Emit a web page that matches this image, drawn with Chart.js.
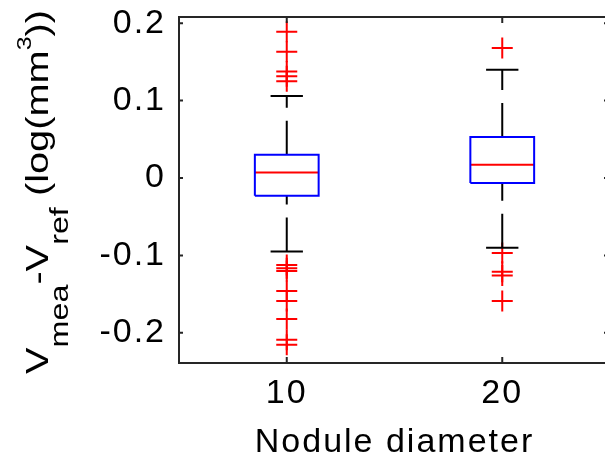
<!DOCTYPE html>
<html>
<head>
<meta charset="utf-8">
<script src="https://cdn.jsdelivr.net/npm/chart.js@4.4.1/dist/chart.umd.min.js"></script>
<style>
  html, body { margin: 0; padding: 0; background: #fff; overflow: hidden; }
  #wrap { width: 612px; height: 460px; }
  #boxChart { width: 612px; height: 460px; }
</style>
</head>
<body>
<div id="wrap"><canvas id="boxChart" width="612" height="460"></canvas></div>
<script>
// box plot stats
const diameters = [10, 20];
const positions = [1, 2];
const q1 = [-0.023, -0.0065];
const medians = [0.007, 0.017];
const q3 = [0.030, 0.053];
const whiskerLow = [-0.095, -0.090];
const whiskerHigh = [0.106, 0.140];
const outliers10 = [0.189, 0.163, 0.1375, 0.1315, 0.125, -0.1125, -0.1167, -0.120, -0.146, -0.159, -0.182, -0.209, -0.2155];
const outliers20 = [0.168, -0.097, -0.121, -0.126, -0.159];
const yTicks = [-0.2, -0.1, 0, 0.1, 0.2];

const boxHalf = 0.148;
const capHalf = 0.075;
const FONT = "'Liberation Sans', Arial, sans-serif";

// build line pieces for every box
const datasets = [];
positions.forEach((p, i) => {
    datasets.push({
        data: [
            { x: p - boxHalf, y: q1[i] }, { x: p + boxHalf, y: q1[i] },
            { x: p + boxHalf, y: q3[i] }, { x: p - boxHalf, y: q3[i] },
            { x: p - boxHalf, y: q1[i] }
        ],
        borderColor: "#0000ff", borderWidth: 2
    });
    datasets.push({
        data: [{ x: p - boxHalf, y: medians[i] }, { x: p + boxHalf, y: medians[i] }],
        borderColor: "#ff0000", borderWidth: 2
    });
    datasets.push({
        data: [{ x: p, y: q3[i] }, { x: p, y: whiskerHigh[i] }],
        borderColor: "#000", borderWidth: 2, borderDash: [34, 13]
    });
    datasets.push({
        data: [{ x: p, y: whiskerLow[i] }, { x: p, y: q1[i] }],
        borderColor: "#000", borderWidth: 2, borderDash: [34, 13]
    });
    datasets.push({
        data: [{ x: p - capHalf, y: whiskerHigh[i] }, { x: p + capHalf, y: whiskerHigh[i] }],
        borderColor: "#000", borderWidth: 2
    });
    datasets.push({
        data: [{ x: p - capHalf, y: whiskerLow[i] }, { x: p + capHalf, y: whiskerLow[i] }],
        borderColor: "#000", borderWidth: 2
    });
});
datasets.forEach(d => { d.showLine = true; d.pointRadius = 0; d.fill = false; });

[outliers10, outliers20].forEach((list, i) => {
    datasets.push({
        data: list.map(v => ({ x: positions[i], y: v })),
        showLine: false,
        pointStyle: "cross",
        pointRadius: 10.5,
        pointBorderColor: "#ff0000",
        pointBorderWidth: 2,
        borderColor: "#ff0000"
    });
});

// frame, inward ticks and the y title with sub/superscripts
const framePlugin = {
    id: "frame",
    beforeDraw(chart) {
        chart.ctx.letterSpacing = "2px";
    },
    afterDraw(chart) {
        const ctx = chart.ctx;
        const a = chart.chartArea;
        const xs = chart.scales.x, ys = chart.scales.y;
        ctx.save();
        ctx.strokeStyle = "#262626";
        ctx.lineWidth = 2;
        ctx.strokeRect(a.left, a.top, a.right - a.left, a.bottom - a.top);
        ctx.beginPath();
        yTicks.forEach(v => {
            const y = ys.getPixelForValue(v);
            ctx.moveTo(a.left, y); ctx.lineTo(a.left + 4, y);
            ctx.moveTo(a.right, y); ctx.lineTo(a.right - 6, y);
        });
        positions.forEach(p => {
            const x = xs.getPixelForValue(p);
            ctx.moveTo(x, a.bottom); ctx.lineTo(x, a.bottom - 6);
            ctx.moveTo(x, a.top); ctx.lineTo(x, a.top + 6);
        });
        ctx.stroke();
        ctx.restore();

        // y axis title
        const parts = [
            { t: "V", s: 32, dy: 0 },
            { t: "mea", s: 26, dy: 20 },
            { t: "-V", s: 32, dy: 0 },
            { t: "ref", s: 26, dy: 20 },
            { t: " (log(mm", s: 32, dy: 0 },
            { t: "3", s: 20, dy: -17 },
            { t: "))", s: 32, dy: 0 }
        ];
        ctx.save();
        ctx.letterSpacing = "0px";
        ctx.fillStyle = "#000";
        ctx.textBaseline = "alphabetic";
        let total = 0;
        parts.forEach(pt => { ctx.font = pt.s + "px " + FONT; pt.w = ctx.measureText(pt.t).width; total += pt.w; });
        const k = 364 / total;
        ctx.translate(48, 374);
        ctx.rotate(-Math.PI / 2);
        ctx.scale(k, 1);
        let cx = 0;
        parts.forEach(pt => {
            ctx.font = pt.s + "px " + FONT;
            ctx.fillText(pt.t, cx, pt.dy);
            cx += pt.w;
        });
        ctx.restore();
    }
};

new Chart(document.getElementById("boxChart"), {
    type: "scatter",
    data: { datasets: datasets },
    options: {
        responsive: false,
        animation: false,
        devicePixelRatio: 1,
        layout: { autoPadding: false, padding: { left: 0, top: 17, right: 2, bottom: 0 } },
        plugins: { legend: { display: false }, tooltip: { enabled: false } },
        scales: {
            x: {
                type: "linear",
                min: 0.5, max: 2.5,
                grid: { display: false, drawTicks: false },
                border: { display: false },
                afterBuildTicks: s => { s.ticks = positions.map(v => ({ value: v })); },
                afterFit: s => { s.height = 97; s.paddingLeft = 0; s.paddingRight = 0; },
                ticks: {
                    color: "#000",
                    padding: 10,
                    font: { family: FONT, size: 34 },
                    callback: v => diameters[positions.indexOf(v)]
                },
                title: {
                    display: true,
                    text: "Nodule diameter",
                    color: "#000",
                    font: { family: FONT, size: 34 },
                    padding: { top: 0, bottom: -3 }
                }
            },
            y: {
                min: -0.239, max: 0.208,
                grid: { display: false, drawTicks: false },
                border: { display: false },
                afterBuildTicks: s => { s.ticks = yTicks.map(v => ({ value: v })); },
                afterFit: s => { s.width = 179; s.paddingTop = 0; s.paddingBottom = 0; },
                ticks: {
                    color: "#000",
                    padding: 13,
                    font: { family: FONT, size: 34 },
                    callback: v => String(Math.round(v * 10) / 10)
                }
            }
        }
    },
    plugins: [framePlugin]
});
</script>
</body>
</html>
